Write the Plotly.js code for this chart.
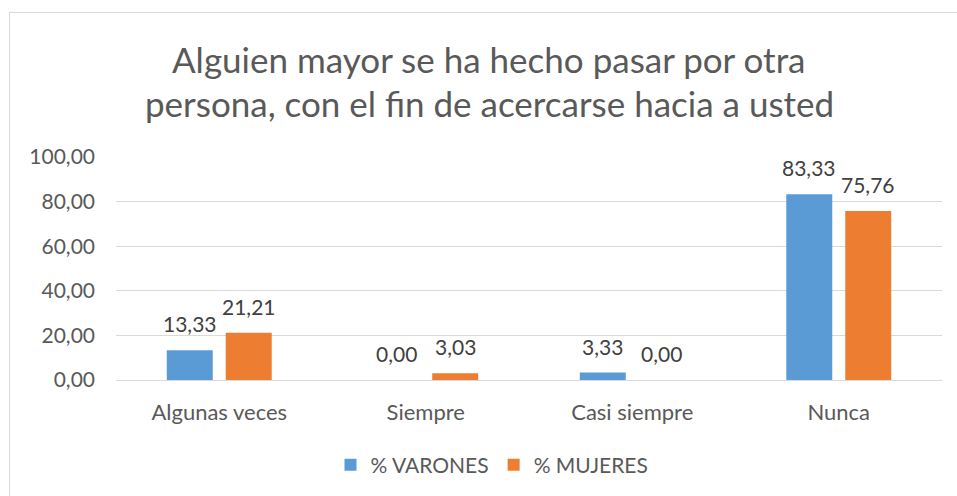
<!DOCTYPE html>
<html>
<head>
<meta charset="utf-8">
<script src="https://cdn.plot.ly/plotly-3.0.1.min.js"></script>
<style>
html,body{margin:0;padding:0;background:#fff;overflow:hidden;}
#frame{position:absolute;left:9px;top:12px;width:1000px;height:600px;border:1px solid #d9d9d9;box-sizing:border-box;pointer-events:none;z-index:5;}
#chart{position:absolute;left:0;top:0;width:957px;height:496px;}
</style>
</head>
<body>
<div id="chart"></div>
<div id="frame"></div>
<script>
const categories = ["Algunas veces", "Siempre", "Casi siempre", "Nunca"];
const varones = [13.33, 0.00, 3.33, 83.33];
const mujeres = [21.21, 3.03, 0.00, 75.76];
const seriesNames = ["% VARONES", "% MUJERES"];
const titleLines = ["Alguien mayor se ha hecho pasar por otra", "persona, con el fin de acercarse hacia a usted"];
const yTicks = [0, 20, 40, 60, 80, 100];

const FONT = "Lato, 'Open Sans', sans-serif";
const blue = "#5B9BD5", orange = "#ED7D31";

// plot area in pixels
const PL = 116, PR = 942, PT = 157, PB = 381;
const px2x = p => (p - PL) / (PR - PL);
const px2y = p => (PB - p) / (PB - PT);

const traces = [
  {type: "bar", name: seriesNames[0], x: categories, y: varones, marker: {color: blue}, hoverinfo: "none"},
  {type: "bar", name: seriesNames[1], x: categories, y: mujeres, marker: {color: orange}, hoverinfo: "none"}
];

const fmt = v => v.toFixed(2).replace(".", ",");
const annotations = [];
[varones, mujeres].forEach((arr, s) => {
  arr.forEach((v, i) => {
    annotations.push({
      x: categories[i], y: v, xref: "x", yref: "y",
      text: fmt(v), showarrow: false,
      xshift: s === 0 ? -29.5 : 29.5, yanchor: "bottom", yshift: 12,
      font: {family: FONT, size: 21, color: "#404040"}
    });
  });
});
titleLines.forEach((t, k) => {
  annotations.push({
    x: px2x(489), xref: "paper", y: px2y(k === 0 ? 59 : 103), yref: "paper",
    text: t, showarrow: false, xanchor: "center", yanchor: "middle",
    font: {family: FONT, size: 35, color: "#595959"}
  });
});

const layout = {
  width: 957, height: 496,
  margin: {l: PL, r: 957 - PR, t: PT, b: 496 - PB},
  paper_bgcolor: "#fff", plot_bgcolor: "#fff",
  separators: ",.",
  barmode: "group", bargap: 0.429, bargroupgap: 0.22,
  showlegend: true,
  legend: {orientation: "h", x: px2x(492), xanchor: "center", y: px2y(465), yanchor: "middle",
    font: {family: FONT, size: 21, color: "#595959"}, itemclick: false},
  xaxis: {type: "category", showgrid: false, showline: true, linecolor: "#d9d9d9", linewidth: 1, ticks: "",
    tickfont: {family: FONT, size: 22, color: "#595959"}, ticklabelstandoff: 13, fixedrange: true},
  yaxis: {range: [0, 100], tickvals: yTicks, tickformat: ".2f", showgrid: true, gridcolor: "#d9d9d9", gridwidth: 1,
    zeroline: false, showline: false, ticks: "", ticklabelstandoff: 20,
    tickfont: {family: FONT, size: 21, color: "#595959"}, fixedrange: true},
  annotations: annotations
};

Plotly.newPlot("chart", traces, layout, {staticPlot: true, displayModeBar: false});
</script>
</body>
</html>
